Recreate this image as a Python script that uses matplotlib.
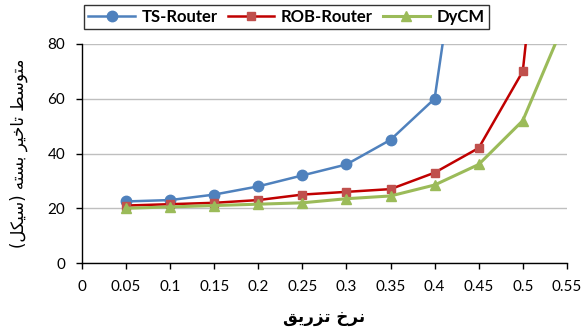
import matplotlib
matplotlib.use('Agg')
import matplotlib.pyplot as plt

# داده‌ها
injection_rate = [0.05, 0.1, 0.15, 0.2, 0.25, 0.3, 0.35, 0.4, 0.45, 0.5, 0.55]
ts_router = [22.5, 23, 25, 28, 32, 36, 45, 60, 170]
rob_router = [21, 21.5, 22, 23, 25, 26, 27, 33, 42, 70, 220]
dycm = [20, 20.5, 21, 21.5, 22, 23.5, 24.5, 28.5, 36, 52, 90]
series_names = ['TS-Router', 'ROB-Router', 'DyCM']
x_ticks = [0, 0.05, 0.1, 0.15, 0.2, 0.25, 0.3, 0.35, 0.4, 0.45, 0.5, 0.55]
y_ticks = [0, 20, 40, 60, 80]

# متن فارسی با حروف شکل‌یافته (ترتیب نمایشی)
x_label = '\ufed6\ufbfe\ufead\ufeb0\ufe97 \ufea5\ufeae\ufee7'
y_label = ('(\ufede\ufb91\ufbff\ufeb3) \ufeea\ufe98\ufeb4\ufe91 '
           '\ufeae\ufbff\ufea7\ufe8e\ufe97 \ufec2\ufeb3\ufeee\ufe98\ufee3')

plt.rcParams['font.family'] = ['Lato', 'DejaVu Sans']

fig = plt.figure(figsize=(5.85, 3.33), dpi=100)
ax = fig.add_axes([0.140, 0.210, 0.829, 0.658])

ax.plot(injection_rate[:len(ts_router)], ts_router, color='#4f81bd', linewidth=1.8,
        marker='o', markersize=7.5, markerfacecolor='#4f81bd', markeredgecolor='#4f81bd',
        label=series_names[0])
ax.plot(injection_rate[:len(rob_router)], rob_router, color='#c00000', linewidth=1.8,
        marker='s', markersize=5.5, markerfacecolor='#c0504d', markeredgecolor='#c0504d',
        label=series_names[1])
ax.plot(injection_rate[:len(dycm)], dycm, color='#9bbb59', linewidth=2.2,
        marker='^', markersize=7, markerfacecolor='#9bbb59', markeredgecolor='#9bbb59',
        label=series_names[2])

ax.set_xlim(0, 0.55)
ax.set_ylim(0, 80)
ax.set_xticks(x_ticks)
ax.set_xticklabels([f'{t:g}' for t in x_ticks])
ax.set_yticks(y_ticks)
ax.tick_params(direction='out', length=4, width=1, labelsize=11, pad=8)
ax.grid(True, axis='y', color='#bfbfbf', linewidth=1)
ax.set_axisbelow(True)
for s in ['top', 'right']:
    ax.spines[s].set_visible(False)
for s in ['left', 'bottom']:
    ax.spines[s].set_linewidth(1)

ax.set_xlabel(x_label, fontsize=12, fontweight='bold', family=['DejaVu Sans'], labelpad=10)
ax.set_ylabel(y_label, fontsize=12, family=['DejaVu Sans'], labelpad=14)

leg = fig.legend(loc='upper left', bbox_to_anchor=(0.138, 0.995), ncol=3, frameon=True,
                 fancybox=False, edgecolor='black', prop={'weight': 'bold', 'size': 12},
                 handlelength=2.8, columnspacing=0.6, borderpad=0.25, handletextpad=0.4,
                 borderaxespad=0.2)
leg.get_frame().set_linewidth(1)

plt.savefig('out.png', dpi=100)
plt.close()
